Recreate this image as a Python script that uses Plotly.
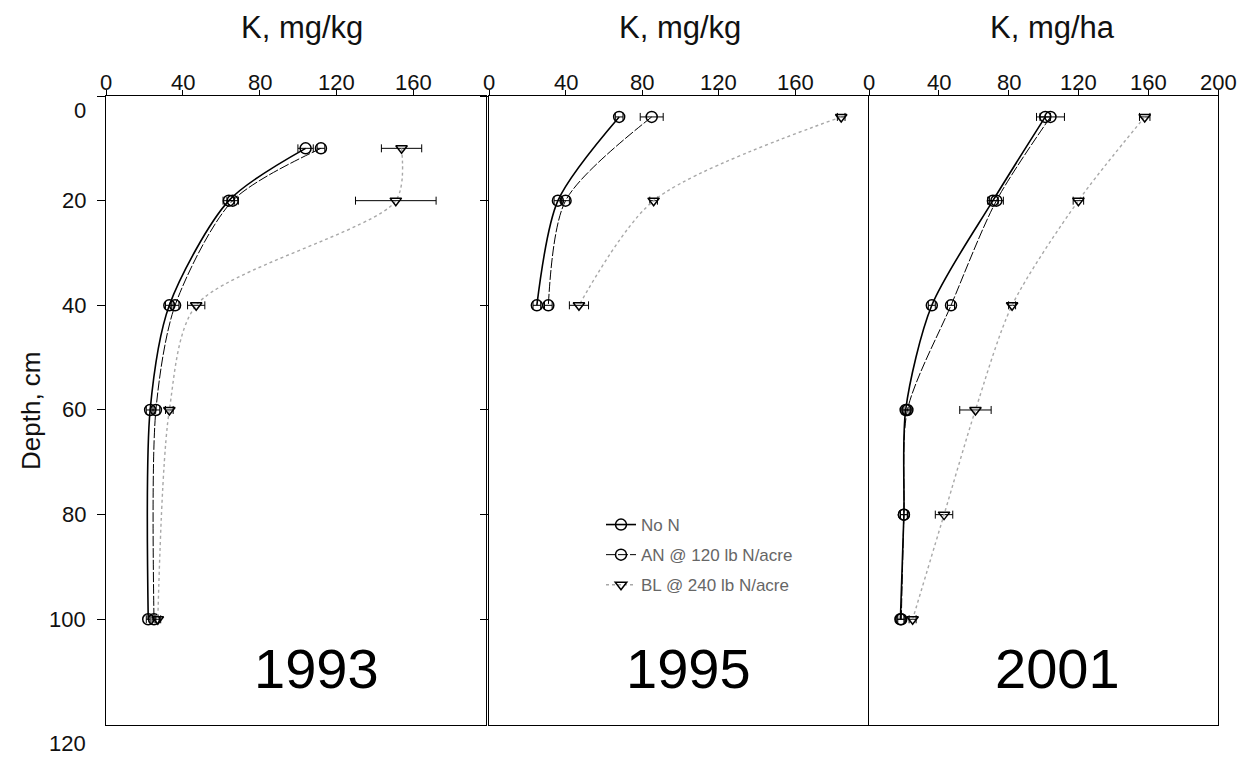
import plotly.graph_objects as go

# Soil K profiles by depth for three treatments, three sampling years
depth_1993 = [10, 20, 40, 60, 100]
non_1993 = [104, 64, 33, 23, 22]
non_1993_err = [4, 3, 2, 2, 1]
an_1993 = [112, 66, 36, 26, 25]
an_1993_err = [2, 3, 2, 2, 1]
bl_1993 = [154, 151, 47, 33, 27]
bl_1993_err = [10.5, 21, 4.5, 2, 1.5]

depth_1995 = [4, 20, 40]
non_1995 = [68, 36, 25]
non_1995_err = [2, 2, 2]
an_1995 = [85, 40, 31]
an_1995_err = [6, 2, 2]
bl_1995 = [184, 86, 47]
bl_1995_err = [2, 2, 5]

depth_2001 = [4, 20, 40, 60, 80, 100]
non_2001 = [101, 71, 36, 21, 20, 18]
non_2001_err = [3, 3, 2, 2, 2, 2]
an_2001 = [104, 73, 47, 22, 20, 18.5]
an_2001_err = [8, 4, 2, 2, 2, 2]
bl_2001 = [158, 120, 82, 61, 43, 25]
bl_2001_err = [3, 3, 2, 9, 5, 2]

years = ["1993", "1995", "2001"]
x_titles = ["K, mg/kg", "K, mg/kg", "K, mg/ha"]
x_ticks = [[0, 40, 80, 120, 160], [0, 40, 80, 120, 160], [0, 40, 80, 120, 160, 200]]
x_ranges = [[0, 198], [0, 198], [0, 200]]
depth_ticks = [0, 20, 40, 60, 80, 100, 120]
depth_tick_text = ["0", "20", "40", "60", "80", "100", "120"]

series_names = ["No N", "AN @ 120 lb N/acre", "BL @ 240 lb N/acre"]

panels = [
    (depth_1993, [(non_1993, non_1993_err), (an_1993, an_1993_err), (bl_1993, bl_1993_err)]),
    (depth_1995, [(non_1995, non_1995_err), (an_1995, an_1995_err), (bl_1995, bl_1995_err)]),
    (depth_2001, [(non_2001, non_2001_err), (an_2001, an_2001_err), (bl_2001, bl_2001_err)]),
]

W, H = 1257, 757
FONT = "Liberation Sans, Arial, sans-serif"

# panel extents in pixels
panel_px = [(106, 486), (489, 868), (869, 1218)]
top_px, bottom_px = 96, 725

line_styles = [
    dict(color="black", width=1.6, dash="solid"),
    dict(color="black", width=1.0, dash="10px,2px"),
    dict(color="#a8a8a8", width=1.4, dash="dot"),
]
marker_styles = [
    dict(symbol="circle-open", size=11, color="black", line=dict(width=1.5, color="black")),
    dict(symbol="circle-open", size=11, color="black", line=dict(width=1.5, color="black")),
    dict(symbol="triangle-down-open", size=10, color="black", line=dict(width=1.5, color="black")),
]

fig = go.Figure()

for p, (depths, series) in enumerate(panels):
    xa = "x" if p == 0 else f"x{p + 1}"
    ya = "y" if p == 0 else f"y{p + 1}"
    for s, (vals, errs) in enumerate(series):
        fig.add_trace(go.Scatter(
            x=vals, y=depths,
            xaxis=xa, yaxis=ya,
            mode="lines+markers",
            name=series_names[s],
            legendgroup=series_names[s],
            showlegend=(p == 1),
            line=dict(shape="spline", smoothing=0.8, **line_styles[s]),
            marker=marker_styles[s],
            error_x=dict(type="data", array=errs, visible=True,
                         color="black", thickness=1, width=4),
        ))

layout = dict(
    width=W, height=H,
    margin=dict(l=0, r=0, t=0, b=0, pad=0, autoexpand=False),
    paper_bgcolor="white",
    plot_bgcolor="white",
    font=dict(family=FONT, color="#111"),
    showlegend=True,
    legend=dict(
        x=601 / W, y=1 - 507 / H, xanchor="left", yanchor="top",
        font=dict(family=FONT, size=17, color="#666"),
        bgcolor="rgba(0,0,0,0)",
        traceorder="grouped",
        tracegroupgap=5,
        itemwidth=30,
    ),
)

ydom = [1 - bottom_px / H, 1 - top_px / H]
for p in range(3):
    xk = "xaxis" if p == 0 else f"xaxis{p + 1}"
    yk = "yaxis" if p == 0 else f"yaxis{p + 1}"
    ya = "y" if p == 0 else f"y{p + 1}"
    xa = "x" if p == 0 else f"x{p + 1}"
    x0, x1 = panel_px[p]
    layout[xk] = dict(
        domain=[x0 / W, x1 / W],
        anchor=ya, side="top",
        range=x_ranges[p],
        tickvals=x_ticks[p],
        ticks="outside", ticklen=5, tickcolor="black",
        showticklabels=False,
        showline=True, linecolor="black", linewidth=1.2, mirror=True,
        showgrid=False, zeroline=False, automargin=False,
    )
    layout[yk] = dict(
        domain=ydom,
        anchor=xa,
        range=[120.2, 0],
        tickvals=depth_ticks[:-1],
        ticks="outside" if p < 2 else "",
        ticklen=8, tickcolor="black",
        showticklabels=False,
        showline=True, linecolor="black", linewidth=1.4 if p == 0 else 1.2,
        mirror=True,
        showgrid=False, zeroline=False, automargin=False,
    )
    if p > 0:
        layout[yk]["matches"] = "y"

fig.update_layout(**layout)

# K tick labels above each panel
for p in range(3):
    xa = "x" if p == 0 else f"x{p + 1}"
    for v in x_ticks[p]:
        fig.add_annotation(
            x=v, xref=xa, y=1 - 82 / H, yref="paper",
            xanchor="center", yanchor="middle",
            text=str(v), showarrow=False,
            font=dict(family=FONT, size=22, color="#111"),
        )

# depth tick labels on the first panel
label_shift = {0: -14, 120: -20}
for v, t in zip(depth_ticks, depth_tick_text):
    fig.add_annotation(
        x=88 / W, xref="paper", xanchor="right",
        y=v, yref="y", yanchor="middle",
        yshift=label_shift.get(v, 0),
        text=t, showarrow=False,
        font=dict(family=FONT, size=22, color="#111"),
    )

# axis titles
title_centers = [302, 680, 1052]
for cx, t in zip(title_centers, x_titles):
    fig.add_annotation(
        x=cx / W, y=1 - 28 / H, xref="paper", yref="paper",
        xanchor="center", yanchor="middle",
        text=t, showarrow=False,
        font=dict(family=FONT, size=31, color="#111"),
    )

fig.add_annotation(
    x=31 / W, y=1 - 410 / H, xref="paper", yref="paper",
    xanchor="center", yanchor="middle", textangle=-90,
    text="Depth, cm", showarrow=False,
    font=dict(family=FONT, size=26, color="#111"),
)

# year labels inside each panel
year_centers = [316, 688, 1057]
for cx, yr in zip(year_centers, years):
    fig.add_annotation(
        x=cx / W, y=1 - 668 / H, xref="paper", yref="paper",
        xanchor="center", yanchor="middle",
        text=yr, showarrow=False,
        font=dict(family=FONT, size=56, color="black"),
    )

fig.write_html("out.html")
